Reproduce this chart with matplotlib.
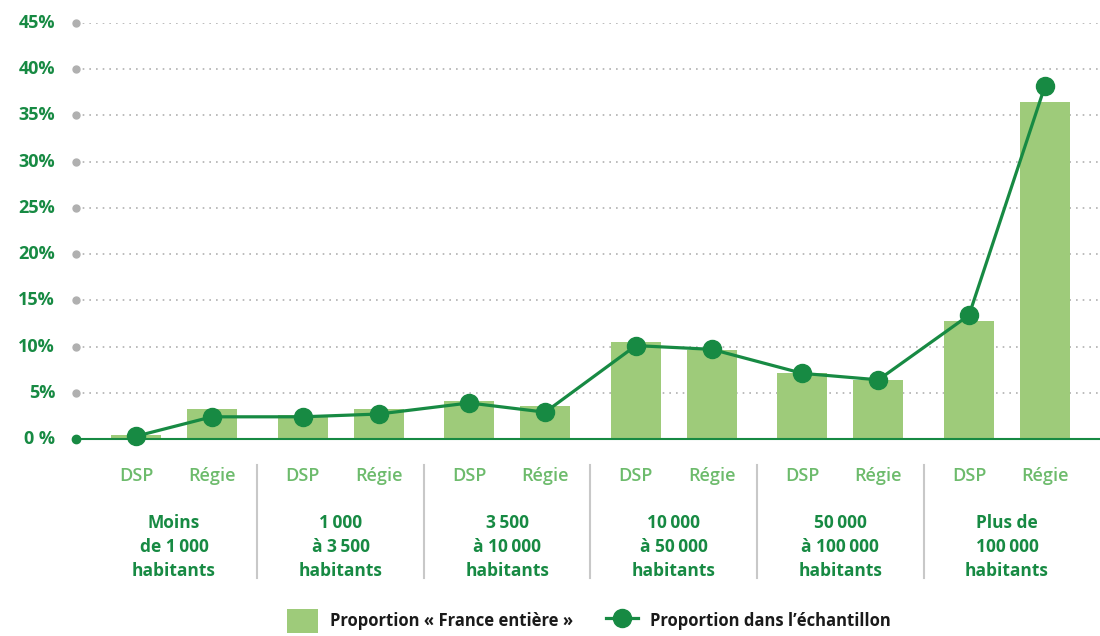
# coding: utf-8
# Répartition DSP / Régie par taille de commune
import matplotlib
matplotlib.use("Agg")
from matplotlib import pyplot as plt
from matplotlib.lines import Line2D
from matplotlib.patches import Patch
import numpy as np

ESP = "\u202f"  # espace fine des milliers
groupes = ["Moins\nde 1" + ESP + "000\nhabitants",
           "1" + ESP + "000\nà 3" + ESP + "500\nhabitants",
           "3" + ESP + "500\nà 10" + ESP + "000\nhabitants",
           "10" + ESP + "000\nà 50" + ESP + "000\nhabitants",
           "50" + ESP + "000\nà 100" + ESP + "000\nhabitants",
           "Plus de\n100" + ESP + "000\nhabitants"]
modes = ["DSP", "Régie"]
# Proportion « France entière » (%), DSP puis Régie pour chaque groupe
france = [0.4, 3.2, 2.6, 3.2, 4.1, 3.6, 10.5, 9.6, 7.1, 6.4, 12.8, 36.5]
# Proportion dans l'échantillon (%)
echantillon = [0.3, 2.4, 2.4, 2.7, 3.9, 2.9, 10.1, 9.7, 7.1, 6.4, 13.4, 38.2]
yticks = [0, 5, 10, 15, 20, 25, 30, 35, 40, 45]

VERT_FONCE = "#178a43"
VERT_CLAIR = "#9ecb7a"
VERT_LABEL = "#6dbb6c"
GRIS = "#b0b0b0"

plt.rcParams['font.family'] = ['Open Sans', 'DejaVu Sans']


def main():
    fig = plt.figure(figsize=(11, 6.36), dpi=100)
    ax = fig.add_axes([76 / 1100, 197 / 636, 1 - 76 / 1100, 416 / 636])

    n = len(groupes)
    x = []
    for g in range(n):
        x += [g - 0.228, g + 0.228]
    x = np.array(x)

    ax.bar(x, france, width=0.3, color=VERT_CLAIR, zorder=2)
    ax.plot(x, echantillon, color=VERT_FONCE, lw=2.3, marker="o", ms=13,
            zorder=4, clip_on=False)

    xmin, xmax = -0.588, 5.558
    ax.set_xlim(xmin, xmax)
    ax.set_ylim(0, 45)

    # grille pointillée avec une pastille à gauche
    for v in yticks[1:]:
        ax.plot([xmin, xmax], [v, v], color=GRIS, lw=1.2, ls=(0, (1, 3)), zorder=1)
        ax.plot([xmin], [v], marker="o", ms=5, color=GRIS, clip_on=False, zorder=1)
    ax.plot([xmin, xmax], [0, 0], color=VERT_FONCE, lw=1.5, zorder=3, clip_on=False)
    ax.plot([xmin], [0], marker="o", ms=6, color=VERT_FONCE, clip_on=False, zorder=3)

    for s in ax.spines.values():
        s.set_visible(False)
    ax.set_xticks([])
    ax.set_yticks([])
    for v in yticks:
        lab = "0 %" if v == 0 else "%d%%" % v
        fig.text(55 / 1100, ax.transData.transform((0, v))[1] / 636, lab,
                 ha="right", va="center", fontsize=13, fontweight="bold", color=VERT_FONCE)

    # libellés DSP / Régie et groupes
    to_fig = lambda xv: (ax.transData.transform((xv, 0))[0]) / 1100
    for i, xv in enumerate(x):
        fig.text(to_fig(xv), 1 - 476 / 636, modes[i % 2], ha="center", va="center",
                 fontsize=13, fontweight="semibold", color=VERT_LABEL)
    for g in range(n):
        fig.text(to_fig(g), 1 - 547 / 636, groupes[g], ha="center", va="center",
                 fontsize=12.5, fontweight="bold", color=VERT_FONCE, linespacing=1.45)
        if g < n - 1:
            xs = to_fig(g + 0.5)
            fig.add_artist(Line2D([xs, xs], [1 - 465 / 636, 1 - 578 / 636],
                                  color="#c8c8c8", lw=1.5))

    # légende
    handles = [Patch(facecolor=VERT_CLAIR, edgecolor="none"),
               Line2D([], [], color=VERT_FONCE, lw=2.3, marker="o", ms=13)]
    leg = fig.legend(handles, ["Proportion « France entière »", "Proportion dans l’échantillon"],
                     loc="center", bbox_to_anchor=(0.535, 1 - 621 / 636), ncol=2, frameon=False,
                     prop={"size": 12, "weight": "bold"}, handlelength=1.9, handleheight=1.75,
                     columnspacing=2.0, handletextpad=0.7)
    for t in leg.get_texts():
        t.set_color("#1a1a1a")

    fig.savefig("out.png", dpi=100, facecolor="white")


if __name__ == '__main__':
    main()
